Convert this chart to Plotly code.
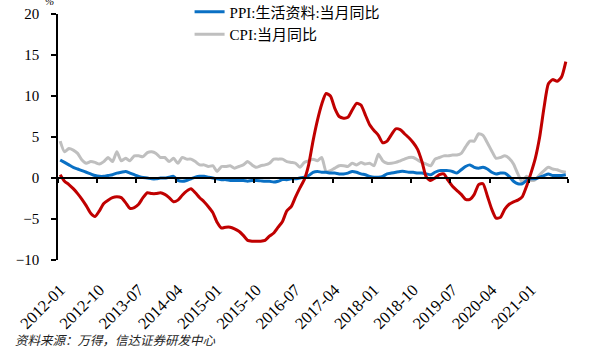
import pandas as pd
import plotly.graph_objects as go

months = [p.strftime("%Y-%m") for p in pd.period_range("2012-01", "2021-09", freq="M")]

tick_labels = ["2012-01", "2012-10", "2013-07", "2014-04", "2015-01", "2015-10", "2016-07",
               "2017-04", "2018-01", "2018-10", "2019-07", "2020-04", "2021-01"]

ppi_consumer = [
    2.2, 1.9, 1.6, 1.3, 1.1, 0.9, 0.7, 0.5, 0.3, 0.2, 0.2, 0.3,
    0.4, 0.6, 0.7, 0.8, 0.6, 0.4, 0.2, 0.05, 0.0, -0.1, -0.1, 0.0,
    0.0, 0.1, 0.2, -0.3, -0.4, -0.3, -0.1, 0.1, 0.2, 0.2, 0.1, 0.0,
    -0.1, -0.2, -0.2, -0.3, -0.3, -0.3, -0.3, -0.4, -0.3, -0.3, -0.35, -0.4,
    -0.4, -0.5, -0.4, -0.2, -0.2, -0.1, -0.1, 0.0, 0.1, 0.3, 0.7, 0.8,
    0.7, 0.7, 0.6, 0.6, 0.5, 0.5, 0.6, 0.8, 0.7, 0.5, 0.4, 0.2,
    0.1, 0.1, 0.2, 0.5, 0.6, 0.7, 0.8, 0.8, 0.7, 0.7, 0.6, 0.6,
    0.5, 0.4, 0.7, 0.9, 0.9, 0.9, 0.8, 0.6, 1.0, 1.4, 1.6, 1.3,
    1.2, 1.3, 1.1, 0.7, 0.5, 0.6, 0.6, 0.2, -0.4, -0.7, -0.7, -0.3,
    -0.1, -0.1, 0.1, 0.3, 0.5, 0.3, 0.3, 0.3, 0.4,
]

cpi = [
    4.5, 3.2, 3.6, 3.4, 3.0, 2.2, 1.8, 2.0, 1.9, 1.7, 2.0, 2.5,
    2.0, 3.2, 2.1, 2.4, 2.1, 2.7, 2.7, 2.6, 3.1, 3.2, 3.0, 2.5,
    2.5, 2.0, 2.4, 1.8, 2.5, 2.3, 2.3, 2.0, 1.6, 1.6, 1.4, 1.5,
    0.8, 1.4, 1.4, 1.5, 1.2, 1.4, 1.6, 2.0, 1.6, 1.3, 1.5, 1.6,
    1.8, 2.3, 2.3, 2.3, 2.0, 1.9, 1.8, 1.3, 1.9, 2.1, 2.3, 2.1,
    2.5, 0.8, 0.9, 1.2, 1.5, 1.5, 1.4, 1.8, 1.6, 1.9, 1.7, 1.8,
    1.5, 2.9, 2.1, 1.8, 1.8, 1.9, 2.1, 2.3, 2.5, 2.5, 2.2, 1.9,
    1.7, 1.5, 2.3, 2.5, 2.7, 2.7, 2.8, 2.8, 3.0, 3.8, 4.5, 4.5,
    5.4, 5.2, 4.3, 3.3, 2.4, 2.5, 2.7, 2.4, 1.7, 0.5, -0.5, 0.2,
    -0.3, -0.2, 0.4, 0.9, 1.3, 1.1, 1.0, 0.8, 0.7,
]

ppi_producer = [
    0.4, -0.4, -0.8, -1.3, -1.9, -2.6, -3.4, -4.3, -4.7, -4.0, -3.1, -2.7,
    -2.4, -2.3, -2.4, -3.0, -3.7, -3.6, -3.2, -2.4, -1.8, -1.9, -1.9, -1.8,
    -2.0, -2.4, -2.9, -2.7, -2.1, -1.6, -1.3, -1.8, -2.4, -2.9, -3.5, -4.2,
    -5.4, -6.1, -6.0, -6.0, -6.2, -6.5, -7.0, -7.6, -7.7, -7.7, -7.7, -7.6,
    -7.1, -6.7, -6.0, -5.3, -4.0, -3.5, -2.3, -1.2, -0.2, 1.6, 4.5, 7.0,
    9.0, 10.3, 10.0, 8.5, 7.5, 7.3, 7.4, 8.3, 9.1, 8.9, 7.7, 6.5,
    5.8, 5.2, 4.3, 4.5, 5.3, 6.0, 5.9, 5.4, 4.9, 4.3, 3.5, 2.0,
    0.1, -0.3, 0.0, 0.4, 0.5, -0.3, -1.0, -1.5, -2.0, -2.6, -2.6, -2.0,
    -0.8, -0.7, -2.2, -3.8, -4.9, -4.8, -3.8, -3.2, -2.9, -2.7, -2.3, -1.0,
    0.6, 2.4, 5.0, 8.6, 11.5, 12.0, 11.8, 12.3, 14.2,
]

SERIF = "Liberation Serif"
CJK = "Noto Sans CJK SC"

fig = go.Figure()
fig.add_trace(go.Scatter(x=months, y=cpi, mode="lines", name="CPI:当月同比",
                         line=dict(color="#BFBFBF", width=3, shape="spline", smoothing=0.6),
                         legendrank=2))
fig.add_trace(go.Scatter(x=months, y=ppi_consumer, mode="lines", name="PPI:生活资料:当月同比",
                         line=dict(color="#0A70C4", width=3, shape="spline", smoothing=0.6),
                         legendrank=1))
fig.add_trace(go.Scatter(x=months, y=ppi_producer, mode="lines", name="PPI:生产资料:当月同比",
                         line=dict(color="#C00000", width=3, shape="spline", smoothing=0.6),
                         showlegend=False))
# helper trace so the zero-crossing axis is drawn
fig.add_trace(go.Scatter(x=[0], y=[0], xaxis="x2", mode="lines", showlegend=False,
                         hoverinfo="skip", line=dict(width=0)))

n = len(months)
fig.update_layout(
    width=590, height=349,
    margin=dict(l=58, r=22, t=14, b=89, autoexpand=False),
    paper_bgcolor="white", plot_bgcolor="white",
    font=dict(family=SERIF, size=15, color="black"),
    showlegend=True,
    legend=dict(x=0.258, y=1.075, xanchor="left", yanchor="top",
                bgcolor="rgba(0,0,0,0)", font=dict(family=SERIF + ", " + CJK, size=15),
                tracegroupgap=0, itemwidth=30),
    xaxis=dict(type="category", categoryorder="array", categoryarray=months,
               range=[-0.5, n - 0.5], tickmode="array", tickvals=tick_labels,
               ticktext=tick_labels, tickangle=-45, showline=False, ticks="",
               showgrid=False, zeroline=False, ticklabelstandoff=16,
               tickfont=dict(family=SERIF, size=16.5)),
    xaxis2=dict(overlaying="x", anchor="free", position=1/3, range=[-0.5, n - 0.5],
                tickmode="linear", tick0=-0.5, dtick=9, showticklabels=False,
                showline=True, linecolor="black", linewidth=1.5, ticks="outside",
                ticklen=4, tickwidth=1.5, tickcolor="black", showgrid=False, zeroline=False),
    yaxis=dict(range=[-10, 20], dtick=5, showline=True, linecolor="black", linewidth=1.5,
               ticks="outside", ticklen=5, tickwidth=1.5, tickcolor="black",
               showgrid=False, zeroline=False, ticklabelstandoff=9,
               tickfont=dict(family=SERIF, size=15)),
    annotations=[
        dict(text="%", xref="paper", yref="paper", x=-0.029, y=1.052, xanchor="left",
             yanchor="middle", showarrow=False,
             font=dict(family=SERIF, size=11, style="italic")),
        dict(text="资料来源：万得，信达证券研发中心", xref="paper", yref="paper",
             x=-0.088, y=-0.276, xanchor="left", yanchor="top", showarrow=False,
             font=dict(family=CJK, size=12.5, style="italic", color="#222222")),
    ],
)

fig.write_html("out.html", config={"displayModeBar": False})
